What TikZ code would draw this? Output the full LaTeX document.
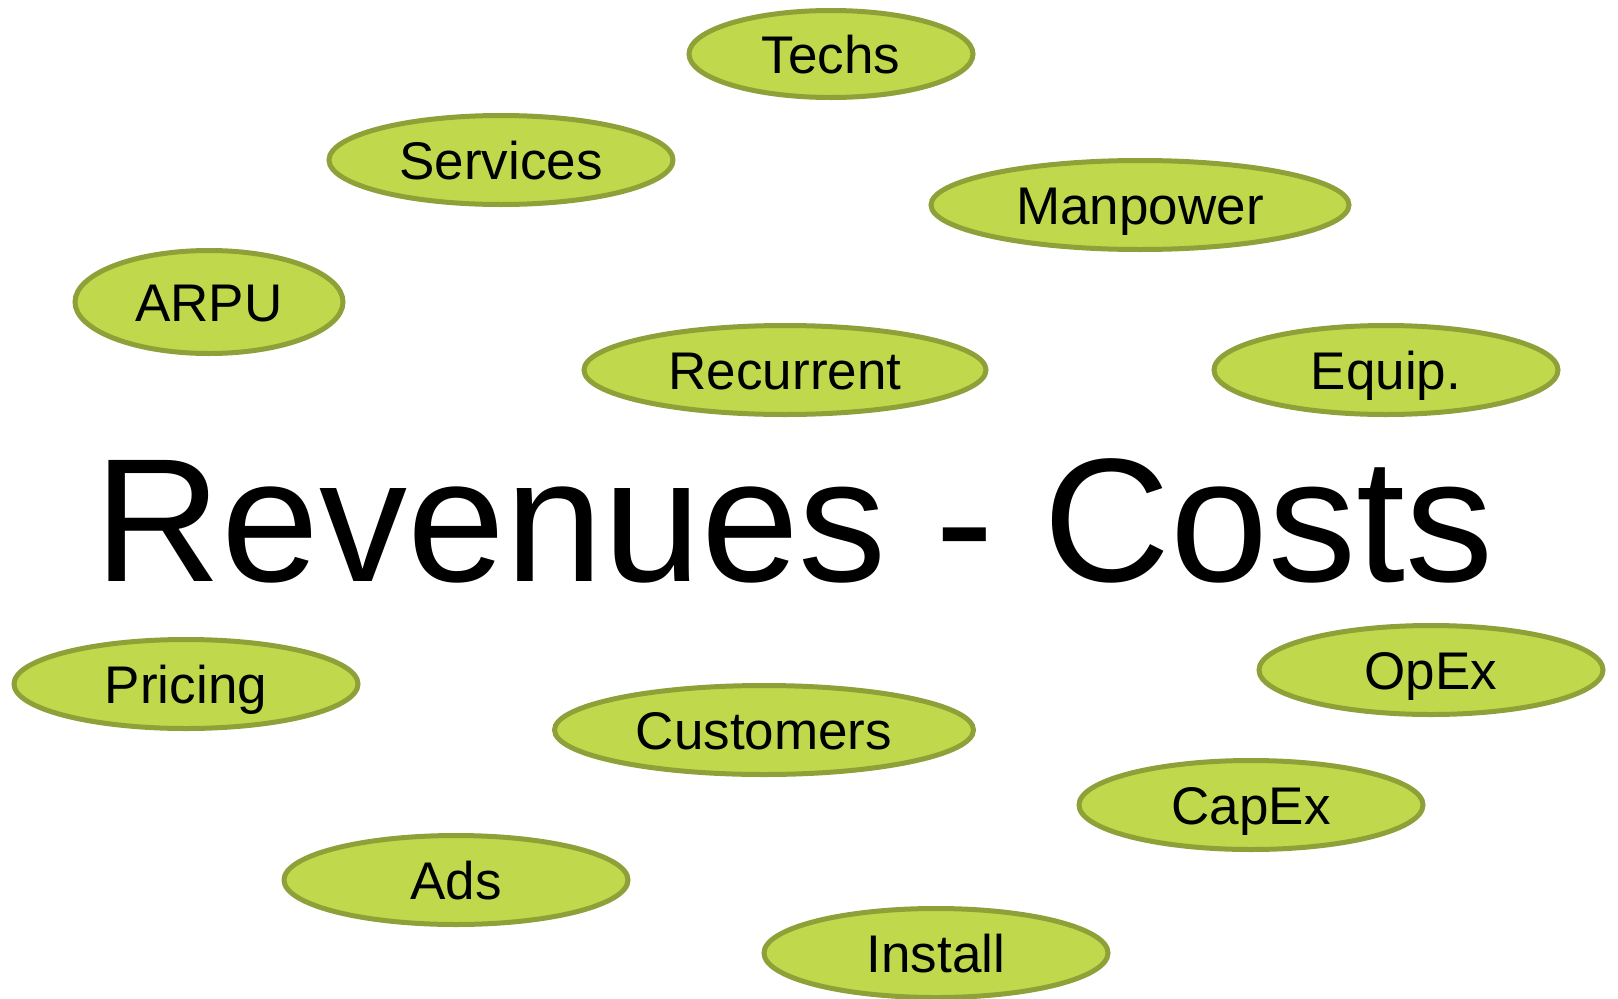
\documentclass[tikz,border=0pt]{standalone}
\usepackage{fontspec}
\setmainfont{Liberation Sans}
\usetikzlibrary{shapes.geometric}
\definecolor{limefill}{RGB}{192,216,76}
\definecolor{limeline}{RGB}{142,160,56}
\tikzset{
  bubble/.style={ellipse, draw=limeline, fill=limefill, line width=5pt,
    inner sep=0pt, minimum width=344pt, minimum height=89pt,
    text height=38pt, text depth=0pt, font=\fontsize{53}{60}\selectfont},
  headline/.style={font=\fontsize{176}{200}\selectfont, anchor=base, inner sep=0pt}
}
\begin{document}
\begin{tikzpicture}[x=1pt,y=-1pt]
        \useasboundingbox (0,0) rectangle (1618,999);
        
        \node[bubble, minimum width=284pt, minimum height=87pt] (techs) at (831,54) {Techs};
        \node[bubble] (services) at (501,160) {Services};
        \node[bubble, minimum width=418pt] (manpower) at (1140,205) {Manpower};
        \node[bubble, minimum width=268pt, minimum height=103pt] (arpu) at (209,302) {ARPU};
        \node[bubble, minimum width=402pt] (recurrent) at (785,370) {Recurrent};
        \node[bubble] (equip) at (1386,370) {Equip.};
        
        \node[headline] (balance) at (794,581) {Revenues - Costs};
        
        \node[bubble] (pricing) at (186,684) {Pricing};
        \node[bubble] (opex) at (1431,670) {OpEx};
        \node[bubble, minimum width=419pt] (customers) at (764,730) {Customers};
        \node[bubble] (capex) at (1251,805) {CapEx};
        \node[bubble] (ads) at (456,880) {Ads};
        \node[bubble] (install) at (936,953) {Install};
    \end{tikzpicture}
\end{document}
